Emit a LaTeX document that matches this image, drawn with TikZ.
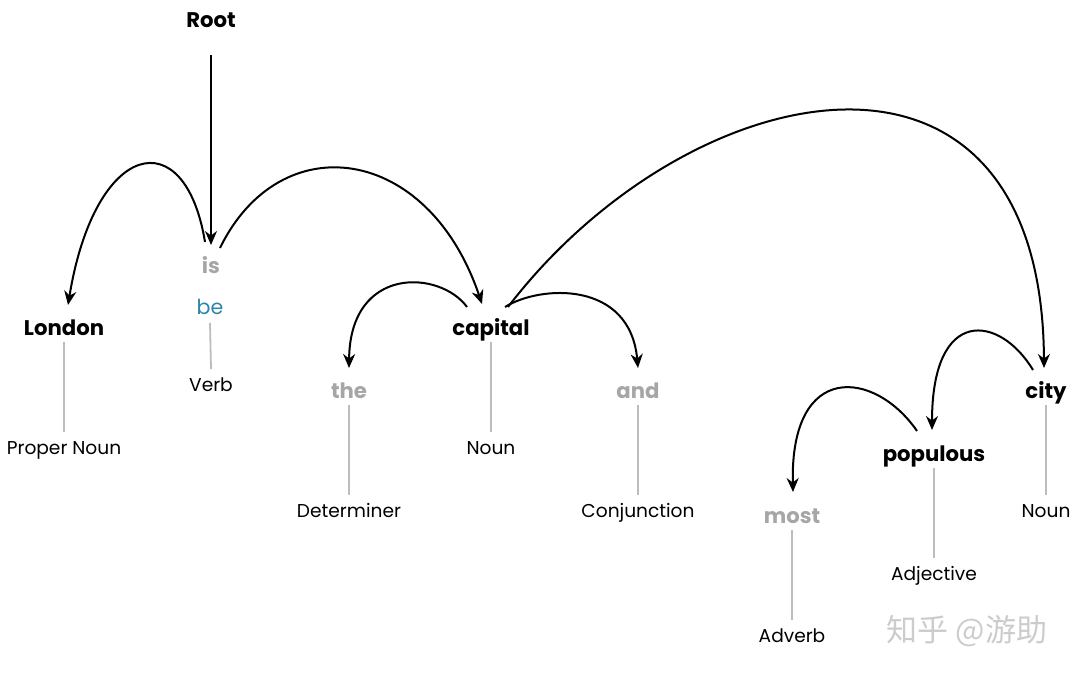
\documentclass[tikz,border=0pt]{standalone}
\usepackage{fontspec}
\setmainfont{Poppins}
\newfontfamily\cjk{Noto Sans CJK SC}
\usetikzlibrary{arrows.meta,positioning,calc}
\definecolor{mutedgray}{rgb}{0.65, 0.65, 0.65}
\definecolor{lemmablue}{rgb}{0.18, 0.52, 0.67}
\definecolor{stemgray}{rgb}{0.74, 0.74, 0.74}
\definecolor{markgray}{rgb}{0.80, 0.80, 0.80}
\tikzset{
  word/.style={font=\fontsize{10.6}{12}\selectfont\bfseries, anchor=base, inner sep=0pt},
  faint/.style={word, text=mutedgray},
  tag/.style={anchor=base, inner sep=0pt},
  stem/.style={draw=stemgray, line width=0.9pt},
  dep/.style={line width=1pt, -{Stealth[length=7pt,width=6pt]}}
}

\begin{document}
\begin{tikzpicture}[x=0.5pt, y=-0.5pt, font=\fontsize{9.3}{11}\selectfont]

        \useasboundingbox (0,0) rectangle (1080,674);

            \node[word] (root) at (211,28) {Root};

            \node[faint] (is) at (211,273) {is};
            \node[tag, font=\fontsize{10.3}{12}\selectfont, text=lemmablue] (be) at (210,314) {be};
            \node[tag] (verb) at (211,391) {Verb};

            \node[word] (london) at (64,335) {London};
            \node[tag] (propn) at (64,454) {Proper Noun};

            \node[faint] (the) at (349,398) {the};
            \node[tag] (det) at (349,517) {Determiner};

            \node[word] (capital) at (491,335) {capital};
            \node[tag] (noun1) at (491,454) {Noun};

            \node[faint] (and) at (638,398) {and};
            \node[tag] (conj) at (638,517) {Conjunction};

            \node[faint] (most) at (792,523) {most};
            \node[tag] (adv) at (792,642) {Adverb};

            \node[word] (populous) at (934,461) {populous};
            \node[tag] (adj) at (934,580) {Adjective};

            \node[word] (city) at (1046,398) {city};
            \node[tag] (noun2) at (1046,517) {Noun};

            \node[tag, text=markgray, font=\fontsize{15.5}{17}\cjk] (mark) at (967,641) {知乎 @游助};

            \draw[stem] ($(be.base)+(0,9)$) -- ($(verb.base)+(0,-22)$);
            \draw[stem] ($(london.base)+(0,7)$) -- ($(propn.base)+(0,-22)$);
            \draw[stem] ($(the.base)+(0,7)$) -- ($(det.base)+(0,-22)$);
            \draw[stem] ($(capital.base)+(0,7)$) -- ($(noun1.base)+(0,-22)$);
            \draw[stem] ($(and.base)+(0,7)$) -- ($(conj.base)+(0,-22)$);
            \draw[stem] ($(most.base)+(0,7)$) -- ($(adv.base)+(0,-22)$);
            \draw[stem] ($(populous.base)+(0,7)$) -- ($(adj.base)+(0,-22)$);
            \draw[stem] ($(city.base)+(0,7)$) -- ($(noun2.base)+(0,-22)$);

            \draw[dep] ($(root.base)+(0,27)$) -- ($(is.base)+(0,-28)$);
            \draw[dep] ($(is.base)+(-6,-31)$) .. controls +(-20,-122) and +(27,-165) .. ($(london.base)+(4,-30)$);
            \draw[dep] ($(is.base)+(9,-25)$) .. controls +(60,-123) and +(-54,-160) .. ($(capital.base)+(-9,-31)$);
            \draw[dep] ($(capital.base)+(-24,-28)$) .. controls +(-27,-37) and +(1,-103) .. ($(the.base)+(0,-30)$);
            \draw[dep] ($(capital.base)+(14,-28)$) .. controls +(35,-22) and +(-8,-88) .. ($(and.base)+(0,-30)$);
            \draw[dep] ($(capital.base)+(17,-28)$) .. controls +(180,-235) and +(-2,-370) .. ($(city.base)+(-2,-30)$);
            \draw[dep] ($(city.base)+(-13,-28)$) .. controls +(-33,-55) and +(0,-125) .. ($(populous.base)+(-2,-31)$);
            \draw[dep] ($(populous.base)+(-17,-30)$) .. controls +(-42,-61) and +(-3,-132) .. ($(most.base)+(1,-31)$);

\end{tikzpicture}
\end{document}
